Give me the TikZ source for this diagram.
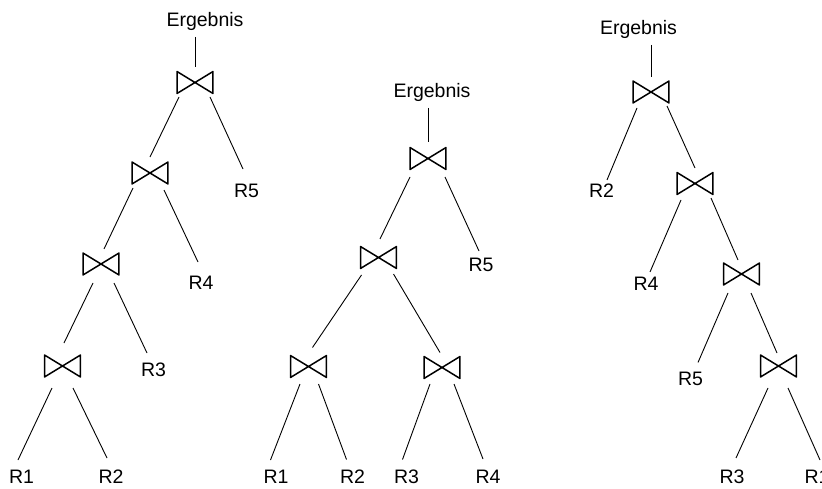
\documentclass[tikz,border=0pt]{standalone}
\usepackage{fontspec}
\setmainfont{Liberation Sans}
\usetikzlibrary{calc}
\tikzset{
  tie/.style={draw=none, minimum width=35.5pt, minimum height=21.5pt, inner sep=0pt},
  tiedraw/.style={line width=1.5pt, line join=round},
  lbl/.style={inner sep=0pt, font=\fontsize{19.5}{23}\selectfont},
  conn/.style={line width=0.9pt},
}
\begin{document}
\begin{tikzpicture}[x=1pt, y=-1pt]
\useasboundingbox (0,0) rectangle (822,489);
\clip (0,0) rectangle (822,489);
% ---------------- tree 1 ----------------
\node[lbl, anchor=base] (t1e) at (205,27) {Ergebnis};
\node[tie] (t1j1) at (195,82.5) {};
\node[tie] (t1j2) at (150,173) {};
\node[tie] (t1j3) at (101,264) {};
\node[tie] (t1j4) at (62.5,366) {};
\node[lbl] (t1r5) at (246.5,190.5) {R5};
\node[lbl] (t1r4) at (201,283) {R4};
\node[lbl] (t1r3) at (153.5,370) {R3};
\node[lbl] (t1r1) at (21.5,476.5) {R1};
\node[lbl] (t1r2) at (111,476.5) {R2};
% ---------------- tree 2 ----------------
\node[lbl, anchor=base] (t2e) at (432,98) {Ergebnis};
\node[tie] (t2j1) at (428,158.5) {};
\node[tie] (t2j2) at (378.5,257.5) {};
\node[tie] (t2j3) at (308.5,366.5) {};
\node[tie] (t2j4) at (442,367.5) {};
\node[lbl] (t2r5) at (481,264.5) {R5};
\node[lbl] (t2r1) at (276,476.5) {R1};
\node[lbl] (t2r2) at (352.5,476.5) {R2};
\node[lbl] (t2r3) at (406.5,476.5) {R3};
\node[lbl] (t2r4) at (488,476.5) {R4};
% ---------------- tree 3 ----------------
\node[lbl, anchor=base] (t3e) at (638.5,35) {Ergebnis};
\node[tie] (t3j1) at (651,92) {};
\node[tie] (t3j2) at (695,183.5) {};
\node[tie] (t3j3) at (741.5,274) {};
\node[tie] (t3j4) at (778.5,366) {};
\node[lbl] (t3r2) at (601.5,191) {R2};
\node[lbl] (t3r4) at (646,283.5) {R4};
\node[lbl] (t3r5) at (690.5,379) {R5};
\node[lbl] (t3r3) at (732,476.5) {R3};
\node[lbl] (t3r1) at (817,476.5) {R1};
% bowtie (join) symbols
\foreach \n in {t1j1,t1j2,t1j3,t1j4,t2j1,t2j2,t2j3,t2j4,t3j1,t3j2,t3j3,t3j4}
  \draw[tiedraw] (\n.north west) -- (\n.south east) -- (\n.north east) -- (\n.south west) -- cycle;
% connectors tree 1
\draw[conn] ($(t1e.base -| t1j1)+(0,10)$) -- ($(t1j1)+(0,-15.5)$);
\draw[conn] ($(t1j1)+(-16,14.5)$) -- ($(t1j2)+(0,-16)$);
\draw[conn] ($(t1j1)+(15,14.5)$) -- ($(t1r5)+(-3.5,-21.5)$);
\draw[conn] ($(t1j2)+(-17,15)$) -- ($(t1j3)+(3,-15)$);
\draw[conn] ($(t1j2)+(14,17)$) -- ($(t1r4)+(-3,-21)$);
\draw[conn] ($(t1j3)+(-8,19)$) -- ($(t1j4)+(1.5,-23)$);
\draw[conn] ($(t1j3)+(13,19)$) -- ($(t1r3)+(-6.5,-17)$);
\draw[conn] ($(t1j4)+(-10.5,22)$) -- ($(t1r1)+(-3.5,-16.5)$);
\draw[conn] ($(t1j4)+(10.5,22)$) -- ($(t1r2)+(-4,-18.5)$);
% connectors tree 2
\draw[conn] ($(t2e.base -| t2j1)+(0,10)$) -- ($(t2j1)+(0,-16.5)$);
\draw[conn] ($(t2j1)+(-18,18.5)$) -- ($(t2j2)+(1.5,-18.5)$);
\draw[conn] ($(t2j1)+(17,18.5)$) -- ($(t2r5)+(-2,-13.5)$);
\draw[conn] ($(t2j2)+(-17,17.5)$) -- ($(t2j3)+(4,-19)$);
\draw[conn] ($(t2j2)+(15,16.5)$) -- ($(t2j4)+(-2,-15)$);
\draw[conn] ($(t2j3)+(-8.5,17.5)$) -- ($(t2r1)+(-5.5,-16.5)$);
\draw[conn] ($(t2j3)+(10,17.5)$) -- ($(t2r2)+(-6,-17)$);
\draw[conn] ($(t2j4)+(-12,16.5)$) -- ($(t2r3)+(-4,-17)$);
\draw[conn] ($(t2j4)+(12,16.5)$) -- ($(t2r4)+(-5,-17.5)$);
% connectors tree 3
\draw[conn] ($(t3e.base -| t3j1)+(0,10)$) -- ($(t3j1)+(0,-15)$);
\draw[conn] ($(t3j1)+(-14,16)$) -- ($(t3r2)+(5.5,-11)$);
\draw[conn] ($(t3j1)+(16,14)$) -- ($(t3j2)+(0,-15.5)$);
\draw[conn] ($(t3j2)+(-14,16.5)$) -- ($(t3r4)+(4,-11.5)$);
\draw[conn] ($(t3j2)+(16,14.5)$) -- ($(t3j3)+(-3.5,-14)$);
\draw[conn] ($(t3j3)+(-13.5,19)$) -- ($(t3r5)+(7.5,-16.5)$);
\draw[conn] ($(t3j3)+(9.5,19)$) -- ($(t3j4)+(-1.5,-13)$);
\draw[conn] ($(t3j4)+(-10.5,22)$) -- ($(t3r3)+(4,-18.5)$);
\draw[conn] ($(t3j4)+(9.5,22)$) -- ($(t3r1)+(3,-16.5)$);
\end{tikzpicture}
\end{document}
